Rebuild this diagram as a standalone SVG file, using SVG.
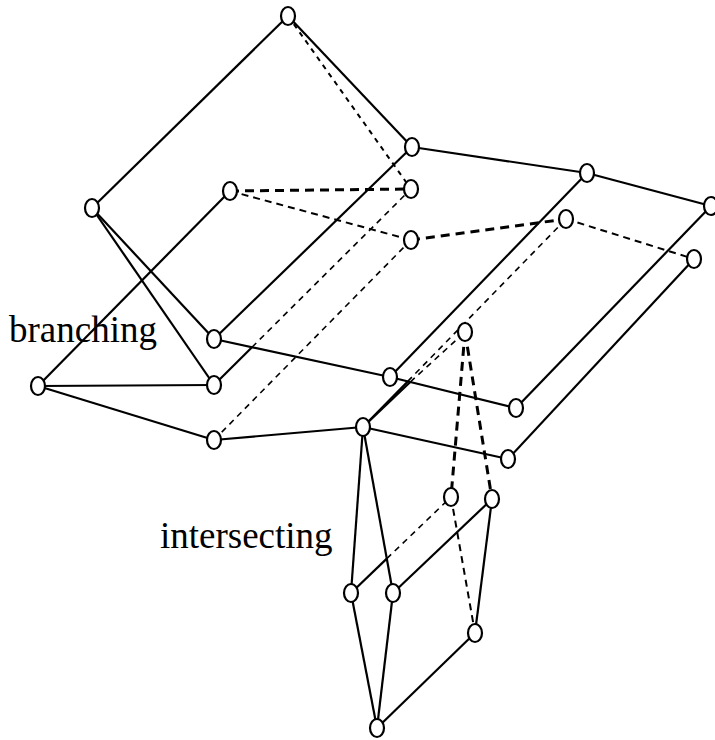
<svg xmlns="http://www.w3.org/2000/svg" width="715" height="740" viewBox="0 0 715 740">
<style>
.s{stroke:#000;stroke-width:2.2;fill:none}
.d1{stroke:#000;stroke-width:1.6;stroke-dasharray:6 5;fill:none}
.d2{stroke:#000;stroke-width:2;stroke-dasharray:7 5;fill:none}
.d3{stroke:#000;stroke-width:3;stroke-dasharray:9 6;fill:none}
.n{fill:#fff;stroke:#000;stroke-width:2.2}
.t{font-family:"Liberation Serif","Times New Roman",serif;font-size:37px;fill:#000}
</style>
<rect width="715" height="740" fill="#fff"/>
<g id="connectors">
<line class="s" x1="288" y1="16" x2="92" y2="208"/>
<line class="s" x1="288" y1="16" x2="412" y2="147"/>
<line class="s" x1="412" y1="147" x2="587" y2="173"/>
<line class="s" x1="587" y1="173" x2="711" y2="206"/>
<line class="s" x1="92" y1="208" x2="214" y2="339"/>
<line class="s" x1="92" y1="208" x2="214" y2="385"/>
<line class="s" x1="412" y1="147" x2="214" y2="339"/>
<line class="s" x1="230" y1="191" x2="38" y2="386"/>
<line class="s" x1="38" y1="386" x2="214" y2="385"/>
<line class="s" x1="38" y1="386" x2="214" y2="440"/>
<line class="s" x1="214" y1="339" x2="390" y2="377"/>
<line class="s" x1="390" y1="377" x2="516" y2="408"/>
<line class="s" x1="587" y1="173" x2="390" y2="377"/>
<line class="s" x1="711" y1="206" x2="516" y2="408"/>
<line class="s" x1="694" y1="259" x2="508" y2="459"/>
<line class="s" x1="214" y1="440" x2="363" y2="427"/>
<line class="s" x1="363" y1="427" x2="508" y2="459"/>
<line class="s" x1="363" y1="427" x2="351" y2="593"/>
<line class="s" x1="363" y1="427" x2="393" y2="593"/>
<line class="s" x1="351" y1="593" x2="377" y2="728"/>
<line class="s" x1="393" y1="593" x2="377" y2="728"/>
<line class="s" x1="377" y1="728" x2="475" y2="633"/>
<line class="s" x1="475" y1="633" x2="492" y2="499"/>
<line class="s" x1="393" y1="593" x2="492" y2="499"/>
<line class="s" x1="214" y1="385" x2="252" y2="347.2"/>
<line class="d1" x1="252" y1="347.2" x2="411" y2="189"/>
<line class="s" x1="351" y1="593" x2="386.8" y2="558.6"/>
<line class="d1" x1="386.8" y1="558.6" x2="451" y2="497"/>
<line class="s" x1="363" y1="427" x2="410.3" y2="382"/>
<line class="d1" x1="410.3" y1="382" x2="465" y2="332"/>
<line class="s" x1="363" y1="427" x2="407.7" y2="381.4"/>
<line class="d1" x1="407.7" y1="381.4" x2="566" y2="219"/>
<line class="d1" x1="214" y1="440" x2="411" y2="240"/>
<line class="d2" x1="288" y1="16" x2="411" y2="189" style="stroke-dasharray:5 5"/>
<line class="d3" x1="230" y1="191" x2="411" y2="189"/>
<line class="d2" x1="230" y1="191" x2="411" y2="240"/>
<line class="d3" x1="411" y1="240" x2="566" y2="219"/>
<line class="d2" x1="566" y1="219" x2="694" y2="259"/>
<line class="d3" x1="465" y1="332" x2="451" y2="497"/>
<line class="d3" x1="465" y1="332" x2="492" y2="499"/>
<line class="d2" x1="451" y1="497" x2="475" y2="633"/>
</g>
<g id="nA"><ellipse class="n" cx="288" cy="16" rx="7" ry="9"/></g>
<g id="nB"><ellipse class="n" cx="92" cy="208" rx="7" ry="9"/></g>
<g id="nC"><ellipse class="n" cx="412" cy="147" rx="7" ry="9"/></g>
<g id="nD"><ellipse class="n" cx="230" cy="191" rx="7" ry="9"/></g>
<g id="nE"><ellipse class="n" cx="411" cy="189" rx="7" ry="9"/></g>
<g id="nF"><ellipse class="n" cx="411" cy="240" rx="7" ry="9"/></g>
<g id="nG"><ellipse class="n" cx="587" cy="173" rx="7" ry="9"/></g>
<g id="nH"><ellipse class="n" cx="566" cy="219" rx="7" ry="9"/></g>
<g id="nI"><ellipse class="n" cx="711" cy="206" rx="7" ry="9"/></g>
<g id="nJ"><ellipse class="n" cx="694" cy="259" rx="7" ry="9"/></g>
<g id="nK"><ellipse class="n" cx="214" cy="339" rx="7" ry="9"/></g>
<g id="nL"><ellipse class="n" cx="38" cy="386" rx="7" ry="9"/></g>
<g id="nM"><ellipse class="n" cx="214" cy="385" rx="7" ry="9"/></g>
<g id="nN"><ellipse class="n" cx="390" cy="377" rx="7" ry="9"/></g>
<g id="nO"><ellipse class="n" cx="465" cy="332" rx="7" ry="9"/></g>
<g id="nP"><ellipse class="n" cx="516" cy="408" rx="7" ry="9"/></g>
<g id="nQ"><ellipse class="n" cx="214" cy="440" rx="7" ry="9"/></g>
<g id="nR"><ellipse class="n" cx="363" cy="427" rx="7" ry="9"/></g>
<g id="nS"><ellipse class="n" cx="508" cy="459" rx="7" ry="9"/></g>
<g id="nT"><ellipse class="n" cx="451" cy="497" rx="7" ry="9"/></g>
<g id="nU"><ellipse class="n" cx="492" cy="499" rx="7" ry="9"/></g>
<g id="nV"><ellipse class="n" cx="351" cy="593" rx="7" ry="9"/></g>
<g id="nW"><ellipse class="n" cx="393" cy="593" rx="7" ry="9"/></g>
<g id="nX"><ellipse class="n" cx="475" cy="633" rx="7" ry="9"/></g>
<g id="nY"><ellipse class="n" cx="377" cy="728" rx="7" ry="9"/></g>
<g id="labels">
<text class="t" x="9" y="342">branching</text>
<text class="t" x="160" y="548">intersecting</text>
</g>
</svg>
